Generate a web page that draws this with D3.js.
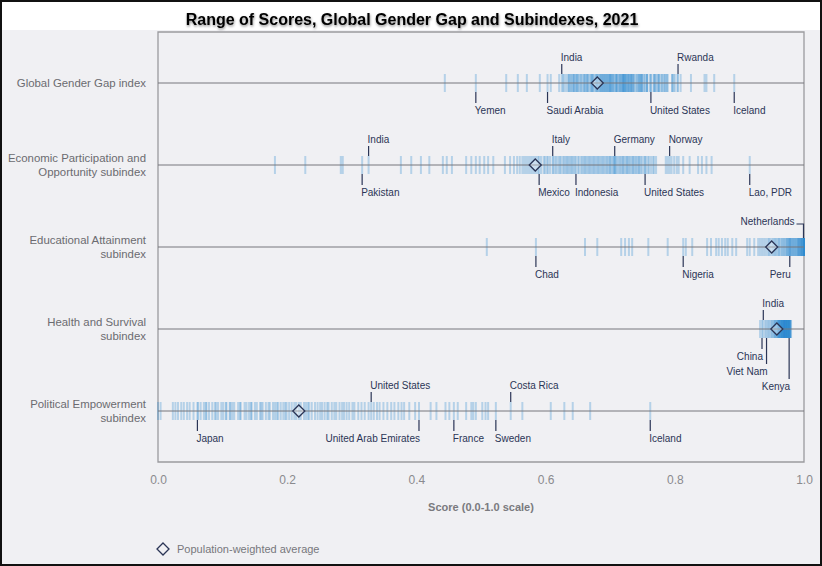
<!DOCTYPE html>
<html>
<head>
<meta charset="utf-8">
<script src="https://d3js.org/d3.v7.min.js"></script>
<style>
  body { margin: 0; background: #fff; }
  text { font-family: "Liberation Sans", Arial, sans-serif; }
</style>
</head>
<body>
<script>
// row names (split into lines as drawn)
var rowNames = [
  ["Global Gender Gap index"],
  ["Economic Participation and", "Opportunity subindex"],
  ["Educational Attainment", "subindex"],
  ["Health and Survival", "subindex"],
  ["Political Empowerment", "subindex"]
];

// country scores, one array per row
var ggg = [0.892,0.861,0.849,0.846,0.825,0.809,0.805,0.804,0.800,0.798,0.796,0.796,0.789,0.788,0.786,0.784,0.784,0.781,0.780,0.778,
  0.775,0.775,0.775,0.772,0.770,0.769,0.768,0.767,0.763,0.763,0.761,0.757,0.757,0.757,0.754,0.753,0.751,0.749,0.749,0.748,
  0.747,0.746,0.745,0.744,0.743,0.741,0.740,0.737,0.736,0.736,0.734,0.733,0.733,0.732,0.731,0.730,0.729,0.728,0.727,0.727,
  0.725,0.724,0.724,0.723,0.722,0.721,0.721,0.720,0.720,0.719,0.718,0.717,0.716,0.715,0.714,0.713,0.711,0.710,0.710,0.709,
  0.708,0.706,0.705,0.704,0.703,0.702,0.701,0.700,0.700,0.699,0.698,0.697,0.696,0.695,0.694,0.693,0.692,0.691,0.690,0.689,
  0.688,0.687,0.686,0.685,0.684,0.683,0.681,0.680,0.679,0.678,0.676,0.674,0.673,0.672,0.671,0.670,0.668,0.666,0.665,0.664,
  0.663,0.661,0.660,0.659,0.657,0.655,0.654,0.652,0.650,0.649,0.648,0.647,0.645,0.644,0.643,0.642,0.640,0.639,0.637,0.636,
  0.635,0.632,0.629,0.627,0.625,0.621,0.608,0.603,0.591,0.571,0.557,0.539,0.492,0.444];

var econ = [0.916,0.857,0.849,0.842,0.836,0.823,0.813,0.806,0.803,0.799,0.795,0.792,0.789,0.786,0.771,0.768,0.766,0.763,0.760,0.758,
  0.755,0.754,0.752,0.749,0.747,0.745,0.744,0.742,0.740,0.738,0.736,0.735,0.733,0.731,0.729,0.727,0.726,0.724,0.722,0.720,
  0.719,0.717,0.715,0.713,0.711,0.709,0.707,0.707,0.706,0.704,0.702,0.700,0.699,0.697,0.695,0.693,0.691,0.689,0.687,0.685,
  0.683,0.681,0.679,0.677,0.675,0.673,0.671,0.669,0.667,0.665,0.663,0.661,0.659,0.657,0.655,0.652,0.650,0.647,0.645,0.643,
  0.641,0.639,0.637,0.635,0.633,0.631,0.629,0.627,0.624,0.622,0.620,0.617,0.615,0.612,0.611,0.607,0.604,0.602,0.599,0.597,
  0.593,0.590,0.588,0.585,0.582,0.579,0.576,0.573,0.570,0.567,0.564,0.560,0.556,0.551,0.545,0.537,0.519,0.511,0.505,0.498,
  0.492,0.485,0.477,0.455,0.447,0.441,0.420,0.407,0.392,0.376,0.326,0.316,0.286,0.283,0.228,0.181];

var edu = [0.509,0.585,0.661,0.680,0.717,0.723,0.729,0.734,0.759,0.789,0.813,0.817,0.827,0.850,0.856,0.864,0.868,0.873,0.878,0.882,
  0.889,0.895,0.912,0.916,0.923,0.929,0.932,0.935,0.938,0.941,0.944,0.946,0.948,0.951,0.953,0.955,0.957,0.959,0.961,0.962,
  0.964,0.966,0.967,0.969,0.970,0.972,0.973,0.974,0.975,0.976,0.977,0.978,0.978,0.979,0.980,0.981,0.982,0.983,0.984,0.985,
  0.986,0.987,0.988,0.989,0.990,0.991,0.991,0.992,0.993,0.993,0.994,0.995,0.995,0.996,0.996,0.997,0.997,0.998,0.998,0.999,
  0.999,1,1,1,1,1,1,1,1,1,1,1,1,1,1,1,1,1,1,1,1,1,1,1,1,1,1,1,1,1,1,1,1,1,1,1,1,1];

var health = [0.932,0.935,0.937,0.940,0.942,0.944,0.946,0.948,0.950,0.951,0.953,0.954,0.955,0.956,0.957,0.958,0.959,0.960,0.960,0.961,
  0.961,0.962,0.962,0.963,0.963,0.964,0.964,0.965,0.965,0.965,0.966,0.966,0.966,0.967,0.967,0.967,0.968,0.968,0.968,0.969,
  0.969,0.969,0.970,0.970,0.970,0.970,0.971,0.971,0.971,0.971,0.972,0.972,0.972,0.972,0.973,0.973,0.973,0.973,0.974,0.974,
  0.974,0.974,0.975,0.975,0.975,0.975,0.976,0.976,0.976,0.976,0.977,0.977,0.977,0.977,0.978,0.978,0.978,0.979,0.979,0.980];

var pol = [0.000,0.004,0.023,0.027,0.031,0.036,0.040,0.045,0.049,0.055,0.061,0.062,0.066,0.071,0.074,0.075,0.079,0.084,0.088,0.090,
  0.093,0.098,0.101,0.105,0.106,0.111,0.112,0.115,0.118,0.124,0.127,0.128,0.134,0.137,0.141,0.144,0.145,0.150,0.153,0.158,
  0.160,0.162,0.167,0.171,0.173,0.178,0.181,0.184,0.186,0.190,0.194,0.197,0.199,0.203,0.207,0.211,0.214,0.218,0.221,0.226,
  0.229,0.232,0.234,0.238,0.243,0.247,0.251,0.254,0.258,0.262,0.264,0.269,0.273,0.276,0.281,0.285,0.288,0.292,0.296,0.301,
  0.304,0.310,0.315,0.320,0.326,0.330,0.334,0.339,0.343,0.349,0.355,0.361,0.366,0.372,0.377,0.381,0.389,0.398,0.404,0.422,
  0.431,0.445,0.451,0.458,0.464,0.477,0.485,0.488,0.492,0.502,0.507,0.511,0.523,0.546,0.564,0.608,0.629,0.642,0.669,0.762];

var series = [ggg, econ, edu, health, pol];

// population-weighted averages
var averages = [0.680, 0.584, 0.950, 0.958, 0.218];

// highlighted countries per row: name, score
var labelNames = [
  ["India", "Yemen", "Saudi Arabia", "United States", "Rwanda", "Iceland"],
  ["India", "Pakistan", "Italy", "Mexico", "Indonesia", "Germany", "United States", "Norway", "Lao, PDR"],
  ["Chad", "Nigeria", "Peru", "Netherlands"],
  ["India", "China", "Viet Nam", "Kenya"],
  ["United States", "Japan", "United Arab Emirates", "France", "Sweden", "Costa Rica", "Iceland"]
];
var labelScores = [
  [0.625, 0.492, 0.603, 0.763, 0.805, 0.892],
  [0.326, 0.316, 0.611, 0.590, 0.647, 0.707, 0.754, 0.792, 0.916],
  [0.585, 0.813, 0.978, 1.000],
  [0.937, 0.935, 0.942, 0.977],
  [0.330, 0.061, 0.404, 0.458, 0.523, 0.546, 0.762]
];
// placement: side (-1 above, 1 below), stacking level, text anchor
var labelPlace = [
  [[-1,0,"start"],[1,0,"start"],[1,0,"start"],[1,0,"start"],[-1,0,"start"],[1,0,"start"]],
  [[-1,0,"start"],[1,0,"start"],[-1,0,"start"],[1,0,"start"],[1,0,"start"],[-1,0,"start"],[1,0,"start"],[-1,0,"start"],[1,0,"start"]],
  [[1,0,"start"],[1,0,"start"],[1,0,"end"],[-1,0,"hook"]],
  [[-1,0,"start"],[1,0,"end"],[1,1,"end"],[1,2,"end"]],
  [[-1,0,"start"],[1,0,"start"],[1,0,"end"],[1,0,"start"],[1,0,"start"],[-1,0,"start"],[1,0,"start"]]
];

var axisTicks = [0, 0.2, 0.4, 0.6, 0.8, 1.0];

var width = 822, height = 566;

var svg = d3.select("body").append("svg")
  .attr("width", width)
  .attr("height", height);

var defs = svg.append("defs");
var f = defs.append("filter").attr("id", "shadow")
  .attr("x", "-5%").attr("y", "-30%").attr("width", "110%").attr("height", "160%");
f.append("feDropShadow").attr("dx", 0.5).attr("dy", 1.5).attr("stdDeviation", 1)
  .attr("flood-color", "#000").attr("flood-opacity", 0.45);

// background
svg.append("rect").attr("width", width).attr("height", height).attr("fill", "#f0f0f3");
svg.append("rect").attr("width", width).attr("height", 30).attr("fill", "#ffffff");
svg.append("rect").attr("x", 1).attr("y", 1).attr("width", width - 2).attr("height", height - 2)
  .attr("fill", "none").attr("stroke", "#111").attr("stroke-width", 2);

svg.append("text")
  .attr("x", 412).attr("y", 25)
  .attr("text-anchor", "middle")
  .attr("font-size", 16).attr("font-weight", "bold")
  .attr("fill", "#000")
  .attr("filter", "url(#shadow)")
  .text("Range of Scores, Global Gender Gap and Subindexes, 2021");

var x = d3.scaleLinear().domain([0, 1]).range([158, 804]);
var y = d3.scalePoint().domain(d3.range(rowNames.length)).range([83, 411]);

// frame
svg.append("path")
  .attr("d", "M158,462 V32 H804 V462 Z")
  .attr("fill", "none").attr("stroke", "#9a9a9e").attr("stroke-width", 1.3);

// axis
var axis = svg.append("g").attr("transform", "translate(0,470)")
  .call(d3.axisBottom(x).tickValues(axisTicks).tickFormat(d3.format(".1f")).tickSize(0).tickPadding(5));
axis.select(".domain").remove();
axis.selectAll("text").attr("font-size", 12).attr("fill", "#8a8a8e")
  .attr("font-family", "Liberation Sans, Arial, sans-serif");

svg.append("text").attr("x", 481).attr("y", 511)
  .attr("text-anchor", "middle").attr("font-size", 11).attr("font-weight", "bold")
  .attr("fill", "#7a7a7e").text("Score (0.0-1.0 scale)");

// rows
rowNames.forEach(function(lines, i) {
  var cy = y(i);
  var g = svg.append("g");

  var lab = g.append("text").attr("text-anchor", "end").attr("font-size", 11.4).attr("fill", "#6b6b70");
  if (lines.length == 1) {
    lab.append("tspan").attr("x", 146).attr("y", cy + 4).text(lines[0]);
  } else {
    lab.append("tspan").attr("x", 146).attr("y", cy - 3).text(lines[0]);
    lab.append("tspan").attr("x", 146).attr("y", cy + 11).text(lines[1]);
  }

  g.selectAll("line.tick").data(series[i]).enter().append("line")
    .attr("class", "tick")
    .attr("x1", function(d) { return x(d); })
    .attr("x2", function(d) { return x(d); })
    .attr("y1", cy - 9).attr("y2", cy + 9)
    .attr("stroke", "#2f8ccf").attr("stroke-opacity", 0.3).attr("stroke-width", 2);

  g.append("line").attr("x1", 158).attr("x2", 804).attr("y1", cy).attr("y2", cy)
    .attr("stroke", "#77777c").attr("stroke-width", 1);

  // country call-outs
  labelNames[i].forEach(function(name, j) {
    var v = labelScores[i][j], p = labelPlace[i][j];
    var lx = Math.min(x(v), 803.5);
    if (p[2] == "hook") {
      g.append("path").attr("d", "M" + (lx - 7) + "," + (cy - 23) + " H" + lx + " V" + (cy - 9))
        .attr("fill", "none").attr("stroke", "#2b3556").attr("stroke-width", 1.2);
      g.append("text").attr("x", lx - 9).attr("y", cy - 22).attr("text-anchor", "end")
        .attr("font-size", 10).attr("fill", "#2b3556").text(name);
      return;
    }
    var off = p[1] * 15;
    if (p[0] < 0) {
      g.append("line").attr("x1", lx).attr("x2", lx).attr("y1", cy - 19).attr("y2", cy - 9)
        .attr("stroke", "#2b3556").attr("stroke-width", 1.2);
      g.append("text").attr("x", p[2] == "end" ? lx + 1 : lx - 1).attr("y", cy - 22)
        .attr("text-anchor", p[2]).attr("font-size", 10).attr("fill", "#2b3556").text(name);
    } else {
      g.append("line").attr("x1", lx).attr("x2", lx).attr("y1", cy + 9).attr("y2", cy + 20 + off)
        .attr("stroke", "#2b3556").attr("stroke-width", 1.2);
      g.append("text").attr("x", p[2] == "end" ? lx + 1 : lx - 1).attr("y", cy + 31 + off)
        .attr("text-anchor", p[2]).attr("font-size", 10).attr("fill", "#2b3556").text(name);
    }
  });

  // average marker
  g.append("path")
    .attr("transform", "translate(" + x(averages[i]) + "," + cy + ")")
    .attr("d", "M0,-6 L6,0 L0,6 L-6,0 Z")
    .attr("fill", "#ffffff").attr("fill-opacity", 0.3)
    .attr("stroke", "#2b3556").attr("stroke-width", 1.3);
});

// legend
svg.append("path").attr("transform", "translate(163,549)")
  .attr("d", "M0,-6 L6,0 L0,6 L-6,0 Z")
  .attr("fill", "none").attr("stroke", "#2b3556").attr("stroke-width", 1.3);
svg.append("text").attr("x", 177).attr("y", 552.5).attr("font-size", 11).attr("fill", "#77777c")
  .text("Population-weighted average");
</script>
</body>
</html>
